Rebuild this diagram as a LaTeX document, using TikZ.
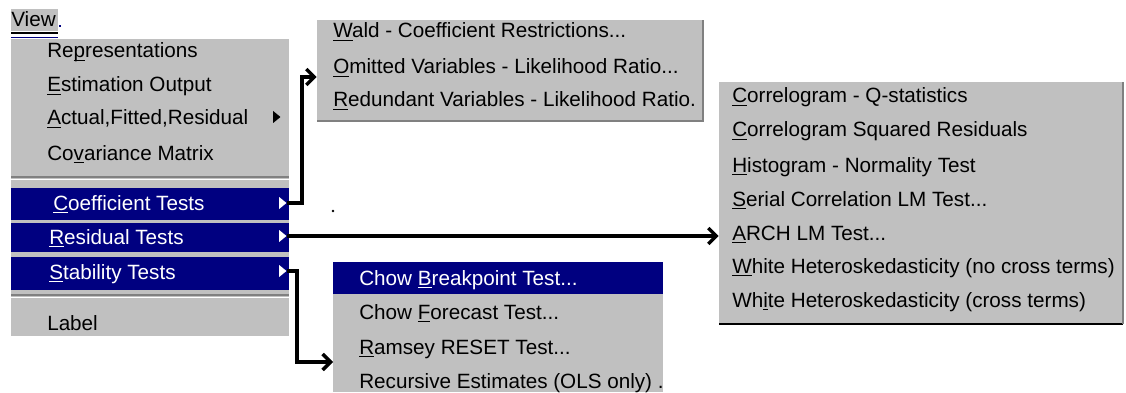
\documentclass[tikz,border=0pt]{standalone}
\usepackage{fontspec}
\setmainfont{Liberation Sans}
\usetikzlibrary{arrows.meta,fit,shapes.geometric}

\definecolor{menugray}{RGB}{192,192,192}
\definecolor{menublue}{RGB}{0,0,128}
\definecolor{menushade}{RGB}{128,128,128}

\newcommand{\menufont}{\fontsize{15.5}{18}\selectfont}
\newsavebox{\accbox}
\newcommand{\acc}[1]{\sbox{\accbox}{#1}\rlap{\rule[-2.6pt]{\wd\accbox}{0.9pt}}#1}

\begin{document}
\begin{tikzpicture}[x=0.75pt,y=0.75pt,yscale=-1,
  panel/.style={fill=menugray, draw=none, inner sep=0pt},
  item/.style={anchor=base west, inner sep=0.75pt, font=\menufont},
  hitem/.style={item, text=white},
  subtri/.style={isosceles triangle, isosceles triangle stretches, inner sep=0pt,
    minimum width=9pt, minimum height=5.5pt, draw=none},
  link/.style={line width=2.6pt, -{Straight Barb[length=6pt,width=12pt]}}]
\useasboundingbox (0,0) rectangle (1126,392);

%Shape: menu panels
\node [panel, fit={(11,39) (289,336)}] (mainmenu) {};
\node [panel, fit={(317,20) (703,122)}] (waldmenu) {};
\node [panel, fit={(333,262) (663,392)}] (chowmenu) {};
\node [panel, fit={(719,82) (1123,325)}] (corrmenu) {};
\draw [menushade, line width=1.2pt] (317,121) -- (703,121) -- (703,20);
\draw [line width=1.5pt] (719,324) -- (1123,324);
\draw [menushade, line width=0.8pt] (1123,82) -- (1123,324);

%Shape: separators of the main menu
\draw [menushade, line width=1.2pt] (11,177) -- (289,177);
\draw [white, line width=1.2pt] (11,179.5) -- (289,179.5);
\draw [menushade, line width=1.2pt] (11,295) -- (289,295);
\draw [white, line width=1.2pt] (11,297.5) -- (289,297.5);

%Shape: highlighted rows
\fill [menublue] (11,188) rectangle (289,220);
\fill [menublue] (11,223) rectangle (289,252);
\fill [menublue] (11,257) rectangle (289,290);
\fill [menublue] (333,262) rectangle (663,294);

%Shape: menu bar entry
\fill [menugray] (11,9) rectangle (58,31);
\node [item, inner sep=0pt] (view) at (11,27) {View};
\draw [line width=1.5pt] (11,33) -- (58,33);
\draw [menublue, line width=0.8pt] (11,37.5) -- (58,37.5);
\fill [menublue] (59,25) rectangle (61,27);

% Text Node
\node [item] (rep) at (46,58) {Re\acc{p}resentations};
\node [item] (est) at (46,92) {\acc{E}stimation Output};
\node [item] (afr) at (46,125) {\acc{A}ctual,Fitted,Residual};
\node [item] (cov) at (46,160) {Co\acc{v}ariance Matrix};
\node [hitem] (coef) at (52,210) {\acc{C}oefficient Tests};
\node [hitem] (resid) at (48,244) {\acc{R}esidual Tests};
\node [hitem] (stab) at (48,279) {\acc{S}tability Tests};
\node [item] (lab) at (46,330) {Label};

%Shape: submenu triangles
\node [subtri, fill=black] (afrtri) at (276,117) {};
\node [subtri, fill=white] (coeftri) at (282,203) {};
\node [subtri, fill=white] (restri) at (282,236) {};
\node [subtri, fill=white] (stabtri) at (282,271) {};

% Text Node
\node [item] (wald) at (332,38) {\acc{W}ald - Coefficient Restrictions...};
\node [item] (omit) at (332,74) {\acc{O}mitted Variables - Likelihood Ratio...};
\node [item] (redund) at (332,107) {\acc{R}edundant Variables - Likelihood Ratio.};

% Text Node
\node [hitem] (chowbp) at (358,285) {Chow \acc{B}reakpoint Test...};
\node [item] (chowfc) at (358,319) {Chow \acc{F}orecast Test...};
\node [item] (ramsey) at (358,354) {\acc{R}amsey RESET Test...};
\node [item] (recur) at (358,388) {Recursive Estimates (OLS only) .};

% Text Node
\node [item] (corrq) at (731,103) {\acc{C}orrelogram - Q-statistics};
\node [item] (corrsq) at (731,137) {\acc{C}orrelogram Squared Residuals};
\node [item] (hist) at (731,172) {\acc{H}istogram - Normality Test};
\node [item] (serial) at (731,206) {\acc{S}erial Correlation LM Test...};
\node [item] (arch) at (731,240) {\acc{A}RCH LM Test...};
\node [item] (whiteno) at (731,273) {\acc{W}hite Heteroskedasticity (no cross terms)};
\node [item] (whitecr) at (731,307) {Wh\acc{i}te Heteroskedasticity (cross terms)};

%Straight Lines: links to the submenus
\coordinate (chowin) at (333,362);
\draw [link] (coeftri.east) -- ++(15,0) |- ([yshift=4.5pt]waldmenu.west);
\draw [link] (restri.east) -- (restri.east -| corrmenu.west);
\draw [link] (stabtri.east) -- ++(10,0) |- (chowin);

\fill (333,211) circle (1.3);

\end{tikzpicture}
\end{document}
